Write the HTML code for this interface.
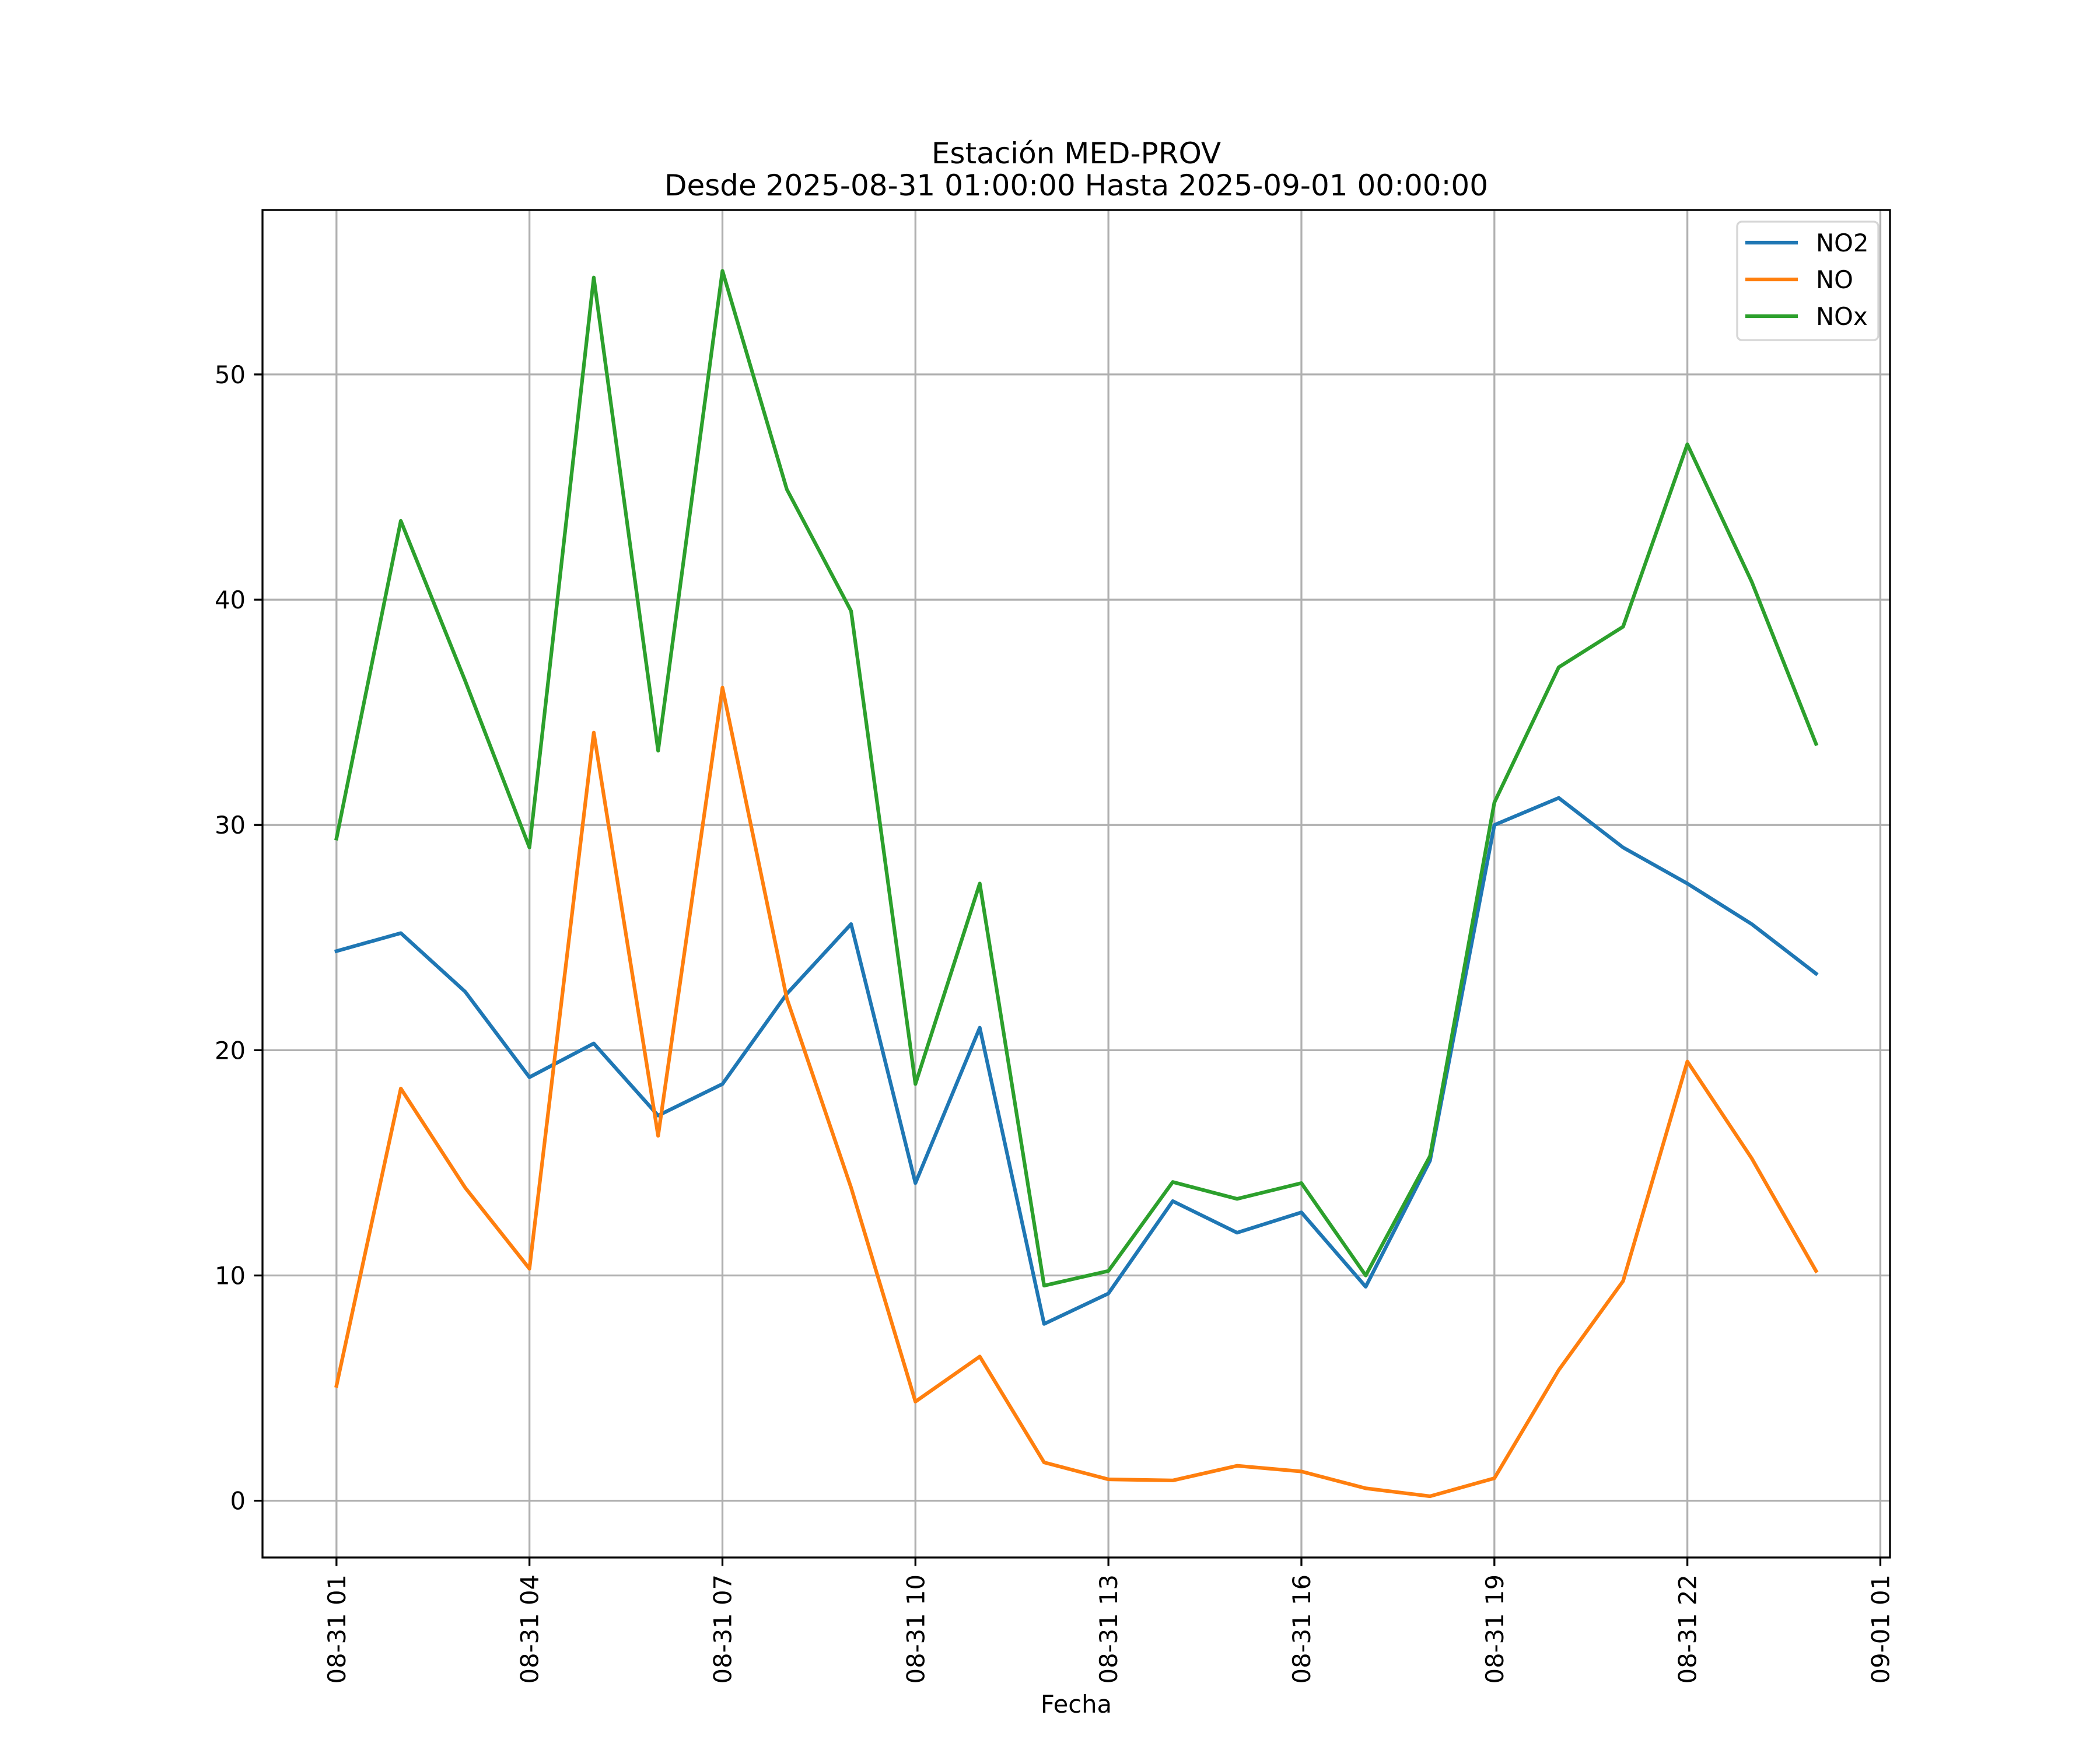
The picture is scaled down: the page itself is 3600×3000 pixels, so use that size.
<!DOCTYPE html>
<html><head><meta charset="utf-8"><style>
html,body{margin:0;padding:0;background:#fff;}
svg{display:block;font-family:"DejaVu Sans","Liberation Sans",sans-serif;}
</style></head><body>
<svg id="chart" width="3600" height="3000" viewBox="0 0 3600 3000" xmlns="http://www.w3.org/2000/svg">
<rect width="3600" height="3000" fill="#fff"/>
<text x="1845" y="280" font-size="50" text-anchor="middle">Estación MED-PROV</text>
<text x="1845" y="335" font-size="50" text-anchor="middle">Desde 2025-08-31 01:00:00 Hasta 2025-09-01 00:00:00</text>
<g id="grid"></g>
<g id="series"></g>
<rect x="450" y="360" width="2790" height="2310" fill="none" stroke="#000" stroke-width="3.3"/>
<g id="ticks"></g>
<text x="1845" y="2936" font-size="41.7" text-anchor="middle">Fecha</text>
<g id="legend">
<rect x="2978" y="380" width="242" height="203" rx="8" fill="#fff" fill-opacity="0.8" stroke="#d6d6d6" stroke-width="3.3"/>
<line x1="2992" y1="416" x2="3082" y2="416" stroke="#1f77b4" stroke-width="6.25"/>
<text x="3113" y="431" font-size="41.7">NO2</text>
<line x1="2992" y1="479" x2="3082" y2="479" stroke="#ff7f0e" stroke-width="6.25"/>
<text x="3113" y="494" font-size="41.7">NO</text>
<line x1="2992" y1="542" x2="3082" y2="542" stroke="#2ca02c" stroke-width="6.25"/>
<text x="3113" y="557" font-size="41.7">NOx</text>
</g>
</svg>
<script>
const hours = [1,2,3,4,5,6,7,8,9,10,11,12,13,14,15,16,17,18,19,20,21,22,23,24];
const no2 = [24.4,25.2,22.6,18.8,20.3,17.1,18.5,22.5,25.6,14.1,21.0,7.85,9.2,13.3,11.9,12.8,9.5,15.1,30.0,31.2,29.0,27.4,25.6,23.4];
const no = [5.1,18.3,13.9,10.3,34.1,16.2,36.1,22.3,13.9,4.4,6.4,1.7,0.95,0.9,1.55,1.3,0.55,0.2,1.0,5.8,9.75,19.5,15.2,10.2];
const nox = [29.4,43.5,36.4,29.0,54.3,33.3,54.6,44.9,39.5,18.5,27.4,9.55,10.2,14.15,13.4,14.1,10.0,15.3,31.0,37.0,38.8,46.9,40.8,33.6];
const xTickHours = [1,4,7,10,13,16,19,22,25];
const xTickLabels = ["08-31 01","08-31 04","08-31 07","08-31 10","08-31 13","08-31 16","08-31 19","08-31 22","09-01 01"];
const yTicks = [0,10,20,30,40,50];

const NS="http://www.w3.org/2000/svg";
const L=450,R=3240,T=360,B=2670;
const xmin=-0.15,xmax=25.15,ymin=-2.52,ymax=57.3;
function xs(h){return L+(h-xmin)/(xmax-xmin)*(R-L);}
function ys(v){return B-(v-ymin)/(ymax-ymin)*(B-T);}
function mk(tag,attrs,parent){const e=document.createElementNS(NS,tag);for(const k in attrs)e.setAttribute(k,attrs[k]);parent.appendChild(e);return e;}
const grid=document.getElementById('grid'),ticks=document.getElementById('ticks'),series=document.getElementById('series');
xTickHours.forEach((h,i)=>{
  const x=xs(h);
  const g=mk('line',{x1:x,y1:T,x2:x,y2:B,stroke:'#b0b0b0','stroke-width':3.3},grid);
  
  
  const t=mk('line',{x1:x,y1:B,x2:x,y2:B+14.6,stroke:'#000','stroke-width':3.3},ticks);
  
  
  const lb=mk('text',{x:0,y:0,'font-size':41.7,'text-anchor':'end',transform:`translate(${x+15},${B+29}) rotate(-90)`},ticks);
  lb.textContent=xTickLabels[i];
  
  
});
yTicks.forEach(v=>{
  const y=ys(v);
  const g=mk('line',{x1:L,y1:y,x2:R,y2:y,stroke:'#b0b0b0','stroke-width':3.3},grid);
  
  
  const t=mk('line',{x1:L-14.6,y1:y,x2:L,y2:y,stroke:'#000','stroke-width':3.3},ticks);
  
  
  const lb=mk('text',{x:L-29,y:y+15,'font-size':41.7,'text-anchor':'end'},ticks);
  lb.textContent=String(v);
  
  
});
[[no2,'#1f77b4','no2-line'],[no,'#ff7f0e','no-line'],[nox,'#2ca02c','nox-line']].forEach(([d,c,n])=>{
  const pts=d.map((v,i)=>xs(hours[i]).toFixed(1)+','+ys(v).toFixed(1)).join(' ');
  const p=mk('polyline',{points:pts,fill:'none',stroke:c,'stroke-width':6.25,'stroke-linejoin':'round','stroke-linecap':'square'},series);
  
  
});
</script>
</body></html>
